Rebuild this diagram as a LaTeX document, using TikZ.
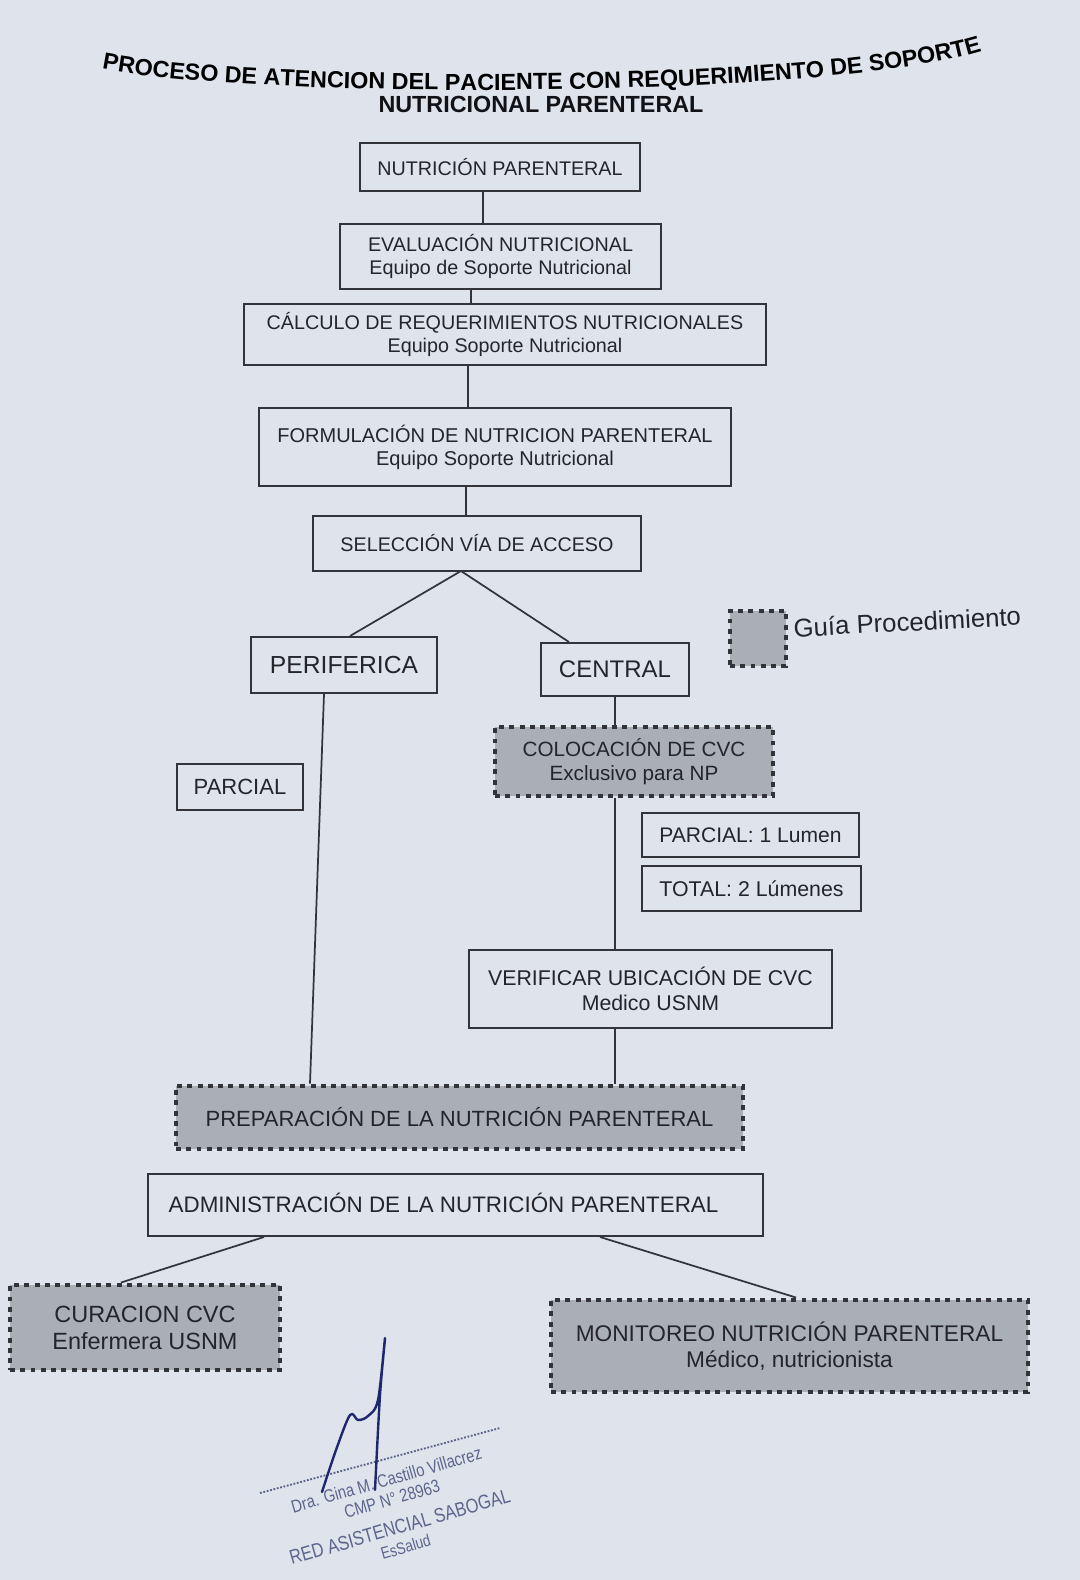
\documentclass[tikz,border=0pt]{standalone}
\usepackage{fontspec}
\setmainfont{Liberation Sans}
\newfontfamily\stampf{Liberation Sans}[FakeStretch=0.82]
\usetikzlibrary{decorations.text,calc}
\definecolor{paper}{RGB}{223,227,235}
\definecolor{ink}{RGB}{50,52,57}
\definecolor{txt}{RGB}{35,37,42}
\definecolor{ttl}{RGB}{18,18,22}
\definecolor{gfill}{RGB}{170,174,181}
\definecolor{sigblue}{RGB}{30,40,110}
\definecolor{stampc}{RGB}{92,102,140}
\newcommand\titlef{\fontsize{17.5}{20}\bfseries\selectfont}
\begin{document}
\begin{tikzpicture}[x=0.75pt,y=-0.75pt,
  sz/.style 2 args={minimum width=#1*0.75pt, minimum height=#2*0.75pt},
  box/.style={draw=ink, line width=1.5pt, inner sep=0pt, align=center, text=txt},
  gbox/.style={draw=ink, line width=3.7pt, dash pattern=on 3.7pt off 4pt, fill=gfill, inner sep=0pt, align=center, text=txt},
  conn/.style={draw=ink, line width=1.3pt},
  fs/.style={font=\fontsize{#1}{\dimexpr #1pt*115/100\relax}\selectfont}
]
\fill[paper] (0,0) rectangle (1080,1580);
\useasboundingbox (0,0) rectangle (1080,1580);

% title
\path[decorate, decoration={text along path, text align=center,
  text={|\titlef|PROCESO DE ATENCION DEL PACIENTE CON REQUERIMIENTO DE SOPORTE}}]
  (98,68) .. controls (250,100) and (830,100) .. (985,50);
\node[text=ttl, font=\titlef] (t2) at (541,104) {NUTRICIONAL PARENTERAL};

% main column
\node[box, sz={280}{48}, fs=14.8] (n1) at (500,167) {NUTRICIÓN PARENTERAL};
\node[box, sz={321}{65}, fs=14.8] (n2) at (500.5,256.5) {EVALUACIÓN NUTRICIONAL\\Equipo de Soporte Nutricional};
\node[box, sz={522}{61}, fs=14.8] (n3) at (505,334.5) {CÁLCULO DE REQUERIMIENTOS NUTRICIONALES\\Equipo Soporte Nutricional};
\node[box, sz={472}{78}, fs=15] (n4) at (495,447) {FORMULACIÓN DE NUTRICION PARENTERAL\\Equipo Soporte Nutricional};
\node[box, sz={328}{55}, fs=14.8] (n5) at (477,543.5) {SELECCIÓN VÍA DE ACCESO};

\coordinate (c1) at (483,0);
\coordinate (c2) at (471,0);
\coordinate (c3) at (468,0);
\coordinate (c4) at (466,0);
\draw[conn] (n1.south -| c1) -- (n2.north -| c1);
\draw[conn] (n2.south -| c2) -- (n3.north -| c2);
\draw[conn] (n3.south -| c3) -- (n4.north -| c3);
\draw[conn] (n4.south -| c4) -- (n5.north -| c4);

\node[box, sz={186}{56}, fs=18.5] (per) at (344,665) {PERIFERICA};
\node[box, sz={148}{53}, fs=18] (cen) at (615,669.5) {CENTRAL};
\coordinate (bp) at (461,571);
\coordinate (cp) at (350,0);
\coordinate (cc) at (569,0);
\draw[conn] (bp) -- (per.north -| cp);
\draw[conn] (bp) -- (cc |- cen.north);

% legend
\node[gbox, sz={56}{55}] (leg) at (758,638.5) {};
\node[text=txt, fs=19.3, anchor=west, rotate=3] (legt) at (789,628) {Guía Procedimiento};

\node[gbox, sz={278}{69}, fs=15.5] (col) at (634,761.5) {COLOCACIÓN DE CVC\\Exclusivo para NP};
\node[box, sz={126}{46}, fs=16.5] (parl) at (240,787) {PARCIAL};
\node[box, sz={217}{44}, fs=15.8] (p1) at (750.5,835) {PARCIAL: 1 Lumen};
\node[box, sz={219}{45}, fs=16] (p2) at (751.5,888.5) {TOTAL: 2 Lúmenes};
\node[box, sz={363}{78}, fs=16] (ver) at (650.5,989) {VERIFICAR UBICACIÓN DE CVC\\Medico USNM};
\node[gbox, sz={567}{63}, fs=16.5] (prep) at (459.5,1117.5) {PREPARACIÓN DE LA NUTRICIÓN PARENTERAL};
\node[box, sz={615}{62}, fs=16.8] (adm) at (455.5,1205) {\raisebox{4pt}{ADMINISTRACIÓN DE LA NUTRICIÓN PARENTERAL}\hspace*{18pt}};
\node[gbox, sz={270}{85}, fs=17.6] (cur) at (145,1327.5) {CURACION CVC\\Enfermera USNM};
\node[gbox, sz={477}{92}, fs=17] (mon) at (789.5,1346) {MONITOREO NUTRICIÓN PARENTERAL\\Médico, nutricionista};

\coordinate (cx) at (615,0);
\coordinate (pa) at (324,0);
\coordinate (pb) at (310,0);
\draw[conn] (cen.south -| cx) -- (col.north -| cx);
\draw[conn] (col.south -| cx) -- (ver.north -| cx);
\draw[conn] (ver.south -| cx) -- (prep.north -| cx);
\draw[conn] (per.south -| pa) -- (prep.north -| pb);

\coordinate (a1) at (264,0);
\coordinate (a2) at (600,0);
\coordinate (k1) at (121,0);
\coordinate (k2) at (796,0);
\draw[conn] (adm.south -| a1) -- (cur.north -| k1);
\draw[conn] (adm.south -| a2) -- (mon.north -| k2);

% stamp
\coordinate (s1) at (260,1493);
\coordinate (s2) at (500,1428);
\draw[stampc, line width=1.4pt, dash pattern=on 1.4pt off 1.2pt] (s1) -- (s2);
\node[stampc, rotate=16, align=center, inner sep=0pt, font=\stampf\fontsize{13.5}{15}\selectfont] (stamp) at (396,1513)
  {Dra. Gina M. Castillo Villacrez\\CMP N° 28963\\[7pt]{\fontsize{15}{15}\selectfont RED ASISTENCIAL SABOGAL}\\{\fontsize{12.5}{15}\selectfont EsSalud}};
% signature
\draw[sigblue, line width=1.8pt, line cap=round, line join=round]
  plot[smooth, tension=0.55] coordinates {(322,1492) (336,1450) (350,1415) (358,1420) (368,1416) (378,1400) (385,1338) (380,1395) (375,1490)};
\end{tikzpicture}
\end{document}
